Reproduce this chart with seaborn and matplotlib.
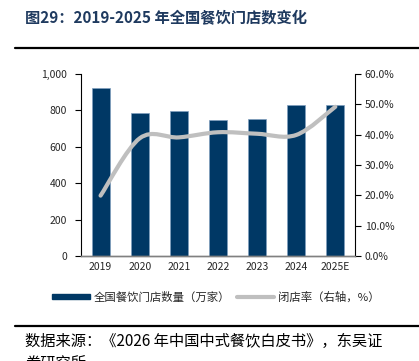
import numpy as np
import pandas as pd
import matplotlib
matplotlib.use("Agg")
import matplotlib.pyplot as plt
import seaborn as sns
from matplotlib.path import Path
from matplotlib.patches import PathPatch, Patch
from matplotlib.lines import Line2D

years = ["2019", "2020", "2021", "2022", "2023", "2024", "2025E"]
stores = [925, 788, 796, 745, 753, 832, 832]          # 万家
close_rate = [19.9, 38.8, 39.1, 40.8, 40.3, 39.9, 49.2]  # %

NAVY = "#003865"
GRAY = "#BFBFBF"
TITLE_C = "#1F3A5F"

sns.set_style("white")
plt.rcParams["font.family"] = ["Noto Sans CJK SC", "DejaVu Sans"]

df = pd.DataFrame({"year": years, "stores": stores, "rate": close_rate})

fig = plt.figure(figsize=(4.19, 3.61), dpi=100)
ax = fig.add_axes([0.1933, 0.2909, 0.6537, 0.5041])

sns.barplot(data=df, x="year", y="stores", color=NAVY, width=0.46,
            saturation=1, ax=ax, edgecolor="#7f9fbf", linewidth=0.5)
ax.set_ylim(0, 1000)
ax.set_xlim(-0.5, len(years) - 0.5)
ax.set_yticks(range(0, 1001, 200))
ax.set_yticklabels([f"{v:,}" for v in range(0, 1001, 200)], fontsize=7.5)
ax.set_xlabel("")
ax.set_ylabel("")
ax.tick_params(axis="x", length=0, labelsize=7.5, pad=4)
ax.tick_params(axis="y", length=4, width=0.8, color="black", direction="out", pad=6)
ax.set_xticks(np.arange(len(years)) + 0.5, minor=True)
ax.tick_params(axis="x", which="minor", length=4, width=0.8, color="#808080", direction="out")

ax2 = ax.twinx()
ax2.set_ylim(0, 60)
ax2.set_yticks(range(0, 61, 10))
ax2.set_yticklabels([f"{v:.1f}%" for v in range(0, 61, 10)], fontsize=7.5)
ax2.tick_params(axis="y", length=4, width=0.8, color="black", direction="out", pad=3)

# smoothed closing-rate line (Catmull-Rom style bezier through the data points)
xs = np.arange(len(years), dtype=float)
ys = np.array(close_rate, dtype=float)
pts = np.column_stack([xs, ys])
verts = [pts[0]]
codes = [Path.MOVETO]
n = len(pts)
for i in range(n - 1):
    p0 = pts[max(i - 1, 0)]
    p1 = pts[i]
    p2 = pts[i + 1]
    p3 = pts[min(i + 2, n - 1)]
    c1 = p1 + (p2 - p0) / 6.0
    c2 = p2 - (p3 - p1) / 6.0
    verts += [c1, c2, p2]
    codes += [Path.CURVE4] * 3
ax2.add_patch(PathPatch(Path(verts, codes), facecolor="none", edgecolor=GRAY,
                        lw=3, capstyle="round", joinstyle="round", zorder=3))

for a in (ax, ax2):
    a.spines["top"].set_visible(False)
    a.spines["left"].set_color("black")
    a.spines["right"].set_color("black")
    a.spines["left"].set_linewidth(0.8)
    a.spines["right"].set_linewidth(0.8)
    a.spines["bottom"].set_color("#808080")
    a.spines["bottom"].set_linewidth(1.0)
ax.spines["right"].set_visible(False)
ax2.spines["left"].set_visible(False)

# title, rules, legend, source
fig.text(25 / 419, 1 - 18 / 361, "图29：2019-2025 年全国餐饮门店数变化", fontsize=11,
         fontweight="bold", color=TITLE_C, va="center", ha="left")
fig.add_artist(Line2D([15 / 419, 1], [1 - 48 / 361] * 2, color="black", lw=1.6))
fig.add_artist(Line2D([15 / 419, 1], [1 - 326 / 361] * 2, color="black", lw=1.6))

handles = [Patch(facecolor=NAVY, edgecolor=NAVY),
           Line2D([0], [0], color=GRAY, lw=3)]
fig.legend(handles, ["全国餐饮门店数量（万家）", "闭店率（右轴，%）"],
           loc="center", bbox_to_anchor=(0.515, 1 - 297 / 361), ncol=2, frameon=False,
           fontsize=8.2, handlelength=3.3, handleheight=0.4, columnspacing=0.6,
           handletextpad=0.3)

fig.text(25 / 419, 1 - 341 / 361, "数据来源：《2026 年中国中式餐饮白皮书》，东吴证",
         fontsize=11, va="center", ha="left", color="black")
fig.text(25 / 419, 1 - 363 / 361, "券研究所", fontsize=11, va="center", ha="left",
         color="black")

fig.savefig("out.png", dpi=100)
